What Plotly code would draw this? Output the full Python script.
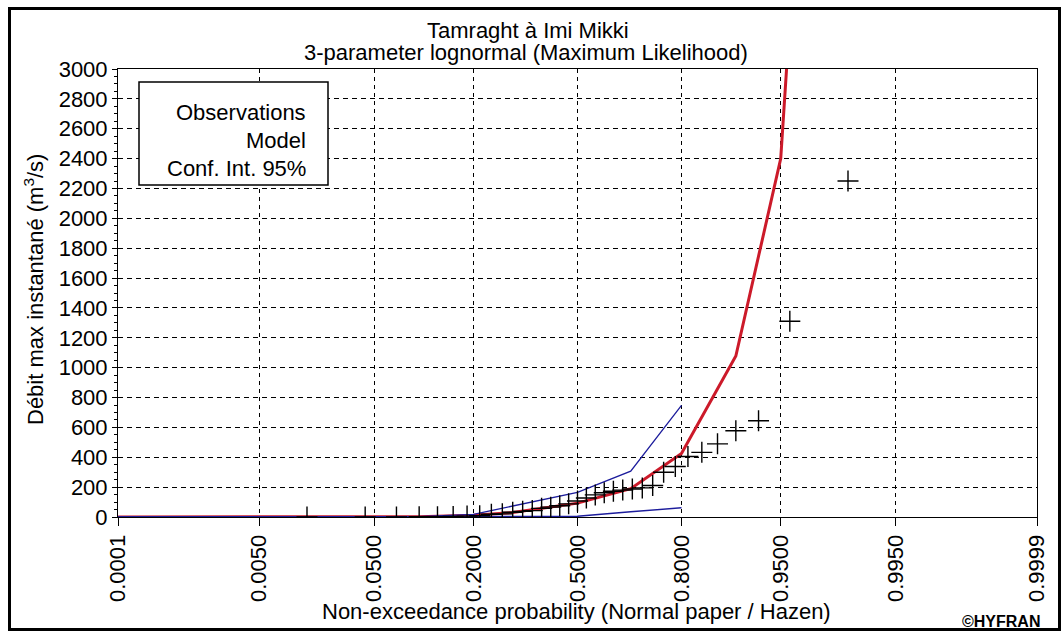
from statistics import NormalDist
import plotly.graph_objects as go

# ---- data -------------------------------------------------------------
# Annual maximum instantaneous discharge (m3/s), sorted ascending
obs_flow = [0.2, 0.5, 0.8, 1.2, 1.8, 3, 6, 8, 18, 21, 32, 38, 43, 58, 66,
            75, 88, 107, 127, 148, 162, 172, 180, 188, 195, 211, 300, 338,
            405, 433, 490, 578, 645, 1311, 2250]

# Fitted 3-parameter lognormal quantiles
model_prob = [0.0001, 0.0005, 0.001, 0.005, 0.01, 0.05, 0.1, 0.2, 0.3,
              0.5, 0.6667, 0.8, 0.9, 0.95, 0.98]
model_flow = [0, 0, 0, 0, 0, 0.5, 2, 12, 30, 93, 190, 425, 1078, 2400, 7600]

# 95 % confidence interval
ci_prob = [0.0001, 0.01, 0.05, 0.1, 0.2, 0.5, 0.6667, 0.8]
ci_upper = [0, 0, 0, 2, 18, 165, 307, 748]
ci_lower = [0, 0, 0, 0, 0, 5, 35, 62]

tick_probs = [0.0001, 0.005, 0.05, 0.2, 0.5, 0.8, 0.95, 0.995, 0.9999]
tick_text = ["0.0001", "0.0050", "0.0500", "0.2000", "0.5000",
             "0.8000", "0.9500", "0.9950", "0.9999"]

# ---- normal probability paper ----------------------------------------
nd = NormalDist()
z = nd.inv_cdf

n = len(obs_flow)
obs_prob = [(i - 0.5) / n for i in range(1, n + 1)]  # Hazen plotting position

FONT = "Liberation Sans, Arial, sans-serif"
W, H = 1061, 631
L, R, T, B = 118, 24, 69, 114
PW, PH = W - L - R, H - T - B


def px(x):
    return (x - L) / PW


def py(y):
    return (H - B - y) / PH


fig = go.Figure()

fig.add_trace(go.Scatter(
    x=[z(p) for p in model_prob], y=model_flow, mode="lines",
    line=dict(color="#cc1a2a", width=3), name="Model", hoverinfo="skip"))

for vals in (ci_upper, ci_lower):
    fig.add_trace(go.Scatter(
        x=[z(p) for p in ci_prob], y=vals, mode="lines",
        line=dict(color="#1c1c9c", width=1.3), name="Conf. Int. 95%",
        hoverinfo="skip"))

fig.add_trace(go.Scatter(
    x=[z(p) for p in obs_prob], y=obs_flow, mode="markers",
    marker=dict(symbol="cross-thin", size=15, color="black",
                line=dict(color="black", width=1.4)),
    name="Observations"))

fig.update_xaxes(
    range=[z(0.0001), z(0.9999)],
    tickvals=[z(p) for p in tick_probs], ticktext=tick_text,
    tickangle=-90, tickfont=dict(family=FONT, size=22, color="black"),
    ticks="outside", ticklen=8, tickcolor="black",
    showgrid=True, gridcolor="black", gridwidth=1, griddash="4px,4px",
    showline=True, mirror=True, linecolor="black", linewidth=1,
    zeroline=False, fixedrange=True)

fig.update_yaxes(
    range=[0, 3000], dtick=200,
    tickfont=dict(family=FONT, size=22, color="black"),
    ticks="outside", ticklen=5, tickcolor="black",
    minor=dict(dtick=50, ticks="outside", ticklen=3, tickcolor="black",
               showgrid=False),
    showgrid=True, gridcolor="black", gridwidth=1, griddash="5px,4px",
    showline=True, mirror=True, linecolor="black", linewidth=1,
    zeroline=False, fixedrange=True)

shapes = [
    # outer frame
    dict(type="rect", xref="paper", yref="paper",
         x0=px(9.5), x1=px(1059.5), y0=py(629.5), y1=py(8.5),
         line=dict(color="black", width=3), fillcolor="rgba(0,0,0,0)",
         layer="above"),
    # legend box
    dict(type="rect", xref="paper", yref="paper",
         x0=px(139), x1=px(328), y0=py(185), y1=py(82),
         line=dict(color="black", width=1.5), fillcolor="white",
         layer="above"),
]

annotations = []


def text(t, x, y, size=22, xanchor="center", angle=0, bold=False):
    annotations.append(dict(
        text=f"<b>{t}</b>" if bold else t, xref="paper", yref="paper",
        x=px(x), y=py(y), xanchor=xanchor, yanchor="middle",
        textangle=angle, showarrow=False,
        font=dict(family=FONT, size=size, color="black")))


text("Tamraght à Imi Mikki", 528, 30)
text("3-parameter lognormal (Maximum Likelihood)", 526, 53)
text("Débit max instantané (m<sup>3</sup>/s)", 34, 290, angle=-90)
text("Non-exceedance probability (Normal paper / Hazen)", 576, 611)
text("©HYFRAN", 1042, 621, size=16, xanchor="right", bold=True)
text("Observations", 308, 112, xanchor="right")
text("Model", 308, 140, xanchor="right")
text("Conf. Int. 95%", 308, 168, xanchor="right")

fig.update_layout(
    width=W, height=H, autosize=False,
    margin=dict(l=L, r=R, t=T, b=B, pad=0),
    paper_bgcolor="white", plot_bgcolor="white",
    showlegend=False, shapes=shapes, annotations=annotations,
    font=dict(family=FONT, color="black"))

fig.write_html("out.html", config={"displayModeBar": False})
